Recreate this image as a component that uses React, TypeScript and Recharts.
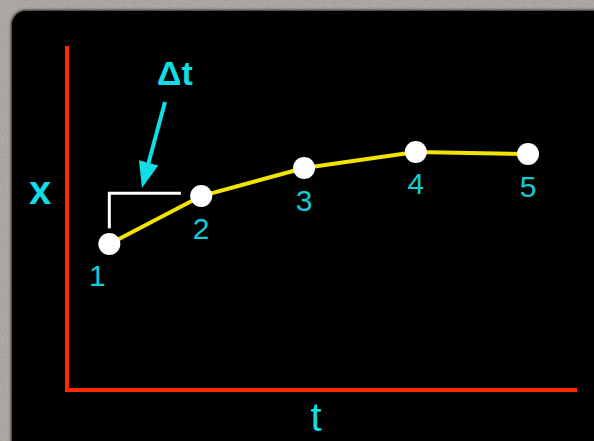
import React from "react";
import { LineChart, Line, XAxis, YAxis, ReferenceLine } from "recharts";

// sample times and positions
const times = [1.0, 3.17, 5.6, 8.24, 10.89];
const positions = [4.27, 5.67, 6.49, 6.96, 6.9];
const pointLabels = ["1", "2", "3", "4", "5"];

// Δt bracket between sample 1 and sample 2
const bracketLow = 4.77;
const bracketTop = 5.75;
const bracketEnd = 2.69;

const data = times.map((t, i) => ({ t, x: positions[i], label: pointLabels[i] }));

const CYAN = "#14ccd6";
const BRIGHT_CYAN = "#10dde6";
const RED = "#ff2a00";
const YELLOW = "#f2e400";

const stoneBg =
  "url(\"data:image/svg+xml;utf8,<svg xmlns='http://www.w3.org/2000/svg' width='200' height='200'><filter id='n'><feTurbulence type='fractalNoise' baseFrequency='0.7' numOctaves='4' stitchTiles='stitch'/><feColorMatrix type='matrix' values='0 0 0 0 0.42  0 0 0 0 0.40  0 0 0 0 0.37  1.2 1.2 1.2 0 -0.9'/></filter><rect width='200' height='200' fill='%23999490'/><rect width='200' height='200' filter='url(%23n)'/></svg>\")";

function PointLabel(props: any) {
  const { x, y, index } = props;
  const dx = index === 0 ? -12 : 0;
  return (
    <text
      x={x + dx}
      y={y + 32}
      textAnchor="middle"
      dominantBaseline="central"
      fill={CYAN}
      fontSize={30}
      fontFamily="'Liberation Sans', Arial, sans-serif"
    >
      {pointLabels[index]}
    </text>
  );
}

export default function App() {
  return (
    <div
      style={{
        position: "fixed",
        left: 0,
        top: 0,
        width: 594,
        height: 441,
        overflow: "hidden",
        background: "#938e88",
        backgroundImage: stoneBg,
      }}
    >
      <div
        style={{
          position: "absolute",
          left: 12,
          top: 11,
          width: 600,
          height: 450,
          background: "#000",
          borderTopLeftRadius: 14,
          boxShadow: "0 0 3px 1px rgba(0,0,0,0.8)",
        }}
      />
      <div style={{ position: "absolute", left: 0, top: 0 }}>
        <LineChart width={594} height={441} data={data} margin={{ top: 48, right: 19, bottom: 50, left: 66 }}>
          <XAxis
            type="number"
            dataKey="t"
            domain={[0, 12]}
            height={1}
            tick={false}
            tickLine={false}
            axisLine={{ stroke: RED, strokeWidth: 4, strokeLinecap: "square" }}
          />
          <YAxis
            type="number"
            domain={[0, 10]}
            width={1}
            tick={false}
            tickLine={false}
            axisLine={{ stroke: RED, strokeWidth: 4, strokeLinecap: "square" }}
          />
          <ReferenceLine
            segment={[{ x: times[0], y: bracketLow }, { x: times[0], y: bracketTop }]}
            stroke="#fff"
            strokeWidth={3}
            strokeLinecap="square"
            ifOverflow="visible"
          />
          <ReferenceLine
            segment={[{ x: times[0], y: bracketTop }, { x: bracketEnd, y: bracketTop }]}
            stroke="#fff"
            strokeWidth={3}
            ifOverflow="visible"
          />
          <Line
            type="linear"
            dataKey="x"
            stroke={YELLOW}
            strokeWidth={4}
            dot={{ r: 11, fill: "#fff", stroke: "#fff", strokeWidth: 0 }}
            label={<PointLabel />}
            isAnimationActive={false}
          />
        </LineChart>
      </div>
      <svg
        width={594}
        height={441}
        style={{ position: "absolute", left: 0, top: 0, pointerEvents: "none" }}
        fontFamily="'Liberation Sans', Arial, sans-serif"
      >
        <text x={40} y={190} textAnchor="middle" dominantBaseline="central" fill={BRIGHT_CYAN} fontSize={40} fontWeight="bold">
          x
        </text>
        <text x={316} y={431} textAnchor="middle" fill={BRIGHT_CYAN} fontSize={40}>
          t
        </text>
        <text x={175} y={85} textAnchor="middle" fill={BRIGHT_CYAN} fontSize={34} fontWeight="bold">
          Δt
        </text>
        <line x1={165} y1={102} x2={148.5} y2={163} stroke={BRIGHT_CYAN} strokeWidth={4} />
        <polygon points="142,188 158.2,165.5 138.9,160.3" fill={BRIGHT_CYAN} />
      </svg>
    </div>
  );
}
